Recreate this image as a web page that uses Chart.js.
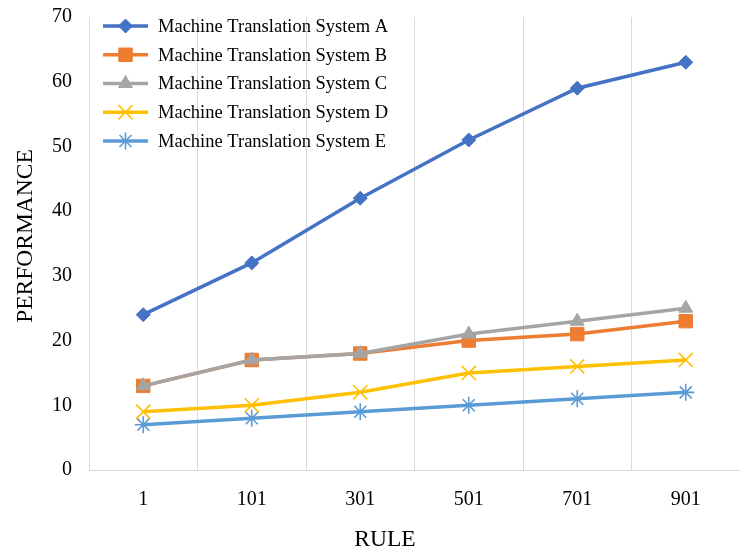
<!DOCTYPE html>
<html>
<head>
<meta charset="utf-8">
<script src="https://cdn.jsdelivr.net/npm/chart.js@4/dist/chart.umd.min.js"></script>
<style>
html,body{margin:0;padding:0;background:#fff;}
#wrap{width:740px;height:553px;}
</style>
</head>
<body>
<div id="wrap"><canvas id="c" width="740" height="553"></canvas></div>
<script>
const categories = ['1', '101', '301', '501', '701', '901'];
const seriesNames = ['Machine Translation System A','Machine Translation System B','Machine Translation System C','Machine Translation System D','Machine Translation System E'];
const systemA = [24, 32, 42, 51, 59, 63];
const systemB = [13, 17, 18, 20, 21, 23];
const systemC = [13, 17, 18, 21, 23, 25];
const systemD = [9, 10, 12, 15, 16, 17];
const systemE = [7, 8, 9, 10, 11, 12];
const yTicks = [0, 10, 20, 30, 40, 50, 60, 70];
const xTitle = 'RULE';
const yTitle = 'PERFORMANCE';

const colors = ['#4472C4', '#ED7D31', '#A5A5A5', '#FFC000', '#5B9BD5'];
const styles = ['rectRot', 'rect', 'triangle', 'crossRot', 'star'];
const radii = [7, 9.5, 8, 10, 8.5];
const pbw = [1, 1, 1, 1.6, 1.6];
const values = [systemA, systemB, systemC, systemD, systemE];
const FONT = '"Liberation Serif", "Times New Roman", serif';

const datasets = values.map((v, i) => ({
  label: seriesNames[i],
  data: v,
  borderColor: colors[i],
  backgroundColor: colors[i],
  borderWidth: 3.5,
  tension: 0,
  pointStyle: styles[i],
  pointRadius: radii[i],
  pointHoverRadius: radii[i],
  pointBorderWidth: pbw[i],
  pointBorderColor: colors[i],
  pointBackgroundColor: colors[i],
  order: 4 - i
}));

const legendPlugin = {
  id: 'inLegend',
  afterDraw(chart) {
    const ctx = chart.ctx;
    ctx.save();
    chart.data.datasets.forEach((ds, i) => {
      const y = 26 + i * 28.75;
      ctx.strokeStyle = ds.borderColor;
      ctx.lineWidth = 3.5;
      ctx.beginPath();
      ctx.moveTo(103, y);
      ctx.lineTo(148, y);
      ctx.stroke();
      ctx.fillStyle = ds.backgroundColor;
      ctx.strokeStyle = ds.borderColor;
      ctx.lineWidth = ds.pointBorderWidth;
      Chart.helpers.drawPoint(ctx, {pointStyle: ds.pointStyle, radius: ds.pointRadius, borderWidth: ds.pointBorderWidth, rotation: 0}, 125.5, y);
      ctx.fillStyle = '#000';
      ctx.font = '18.5px ' + FONT;
      ctx.textAlign = 'left';
      ctx.textBaseline = 'middle';
      ctx.fillText(ds.label, 158, y + 1);
    });
    // axis titles
    ctx.fillStyle = '#000';
    ctx.font = '23.5px ' + FONT;
    ctx.textAlign = 'center';
    ctx.textBaseline = 'middle';
    ctx.fillText(xTitle, 385, 540);
    ctx.translate(25, 236);
    ctx.rotate(-Math.PI / 2);
    ctx.fillText(yTitle, 0, 1);
    ctx.restore();
  }
};

new Chart(document.getElementById('c'), {
  type: 'line',
  data: { labels: categories, datasets },
  options: {
    responsive: false,
    animation: false,
    devicePixelRatio: 1,
    layout: { autoPadding: false, padding: { top: 17, right: 0, left: 0, bottom: 0 } },
    plugins: { legend: { display: false }, tooltip: { enabled: false } },
    scales: {
      x: {
        offset: true,
        grid: { display: true, offset: true, color: '#d9d9d9', lineWidth: 1, drawTicks: false },
        border: { display: true, color: '#d9d9d9', width: 1 },
        ticks: { color: '#000', font: { family: FONT, size: 20 }, padding: 18 },
        afterFit(s) { s.height = 83; s.paddingLeft = 0; s.paddingRight = 0; }
      },
      y: {
        min: 0, max: 70,
        afterBuildTicks(s) { s.ticks = yTicks.map(v => ({ value: v })); },
        grid: { display: false, drawTicks: false },
        border: { display: true, color: '#d9d9d9', width: 1 },
        ticks: { color: '#000', font: { family: FONT, size: 20 }, padding: 17 },
        afterFit(s) { s.width = 89; s.paddingTop = 0; s.paddingBottom = 0; }
      }
    }
  },
  plugins: [legendPlugin]
});
</script>
</body>
</html>
